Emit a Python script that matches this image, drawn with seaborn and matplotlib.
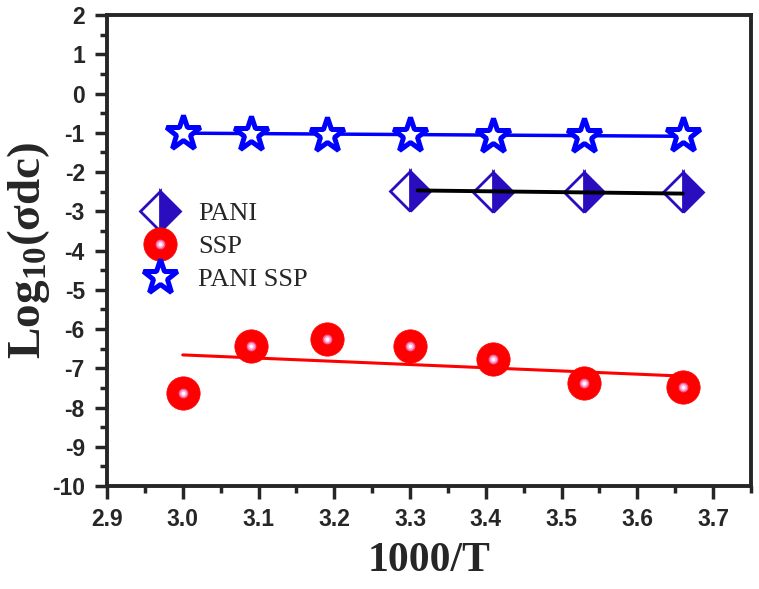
import matplotlib
matplotlib.use("Agg")
import matplotlib.pyplot as plt
import seaborn as sns
import numpy as np
from matplotlib.lines import Line2D
from matplotlib.ticker import MultipleLocator

# ---- data ----
inv_T = [3.00, 3.09, 3.19, 3.30, 3.41, 3.53, 3.66]
pani_ssp = [-1.00, -1.03, -1.05, -1.06, -1.08, -1.08, -1.07]
ssp = [-7.63, -6.44, -6.26, -6.44, -6.77, -7.37, -7.48]
pani_x = [3.30, 3.41, 3.53, 3.66]
pani = [-2.49, -2.50, -2.51, -2.52]

# fitted lines
fit_pani_ssp_x = [3.00, 3.66]
fit_pani_ssp_y = [-1.01, -1.09]
fit_pani_x = [3.31, 3.66]
fit_pani_y = [-2.47, -2.55]
fit_ssp_x = [3.00, 3.66]
fit_ssp_y = [-6.66, -7.20]

labels = ["PANI", "SSP", "PANI SSP"]
xticks = [2.9, 3.0, 3.1, 3.2, 3.3, 3.4, 3.5, 3.6, 3.7]
yticks = list(range(-10, 3))

sns.set_style("ticks")
plt.rcParams["font.family"] = ["Liberation Sans", "DejaVu Sans"]
plt.rcParams["mathtext.fontset"] = "custom"
plt.rcParams["mathtext.rm"] = "Liberation Serif:bold"
plt.rcParams["mathtext.it"] = "Liberation Serif:bold"
plt.rcParams["mathtext.bf"] = "Liberation Serif:bold"

fig = plt.figure(figsize=(7.59, 5.89), dpi=100)
ax = fig.add_axes([107 / 759, 1 - 486 / 589, (751 - 107) / 759, (486 - 15) / 589])

blue = "#0000FF"
red = "#FF0000"
purple = "#2A0DBE"

# fit lines
sns.lineplot(x=fit_pani_ssp_x, y=fit_pani_ssp_y, ax=ax, color=blue, lw=2.5, zorder=2)
sns.lineplot(x=fit_pani_x, y=fit_pani_y, ax=ax, color="black", lw=2.8, zorder=4)
sns.lineplot(x=fit_ssp_x, y=fit_ssp_y, ax=ax, color=red, lw=2.2, zorder=2)

star_kw = dict(ls="none", marker="*", ms=26, mfc="white", mec=blue, mew=3.6)
circ_kw = dict(ls="none", marker="o", ms=24, mfc=red, mec=red, mew=0.5)
hl1_kw = dict(ls="none", marker="o", ms=6, mfc="#FFB0D8", mec="#F060A0", mew=1.0)
hl2_kw = dict(ls="none", marker="o", ms=2.5, mfc="white", mec="white", mew=0)
dia_kw = dict(ls="none", marker="D", ms=20.5, fillstyle="right", mfc=purple,
              markerfacecoloralt="white", mec=purple, mew=2.0)

# markers
ax.plot(inv_T, pani_ssp, zorder=3, **star_kw)
ax.plot(inv_T, ssp, zorder=3, **circ_kw)
ax.plot(inv_T, ssp, zorder=3.1, **hl1_kw)
ax.plot(inv_T, ssp, zorder=3.2, **hl2_kw)
ax.plot(pani_x, pani, zorder=3, **dia_kw)

ax.set_xlim(2.9, 3.75)
ax.set_ylim(-10, 2)
ax.set_xticks(xticks)
ax.set_yticks(yticks)
ax.xaxis.set_minor_locator(MultipleLocator(0.05))
ax.yaxis.set_minor_locator(MultipleLocator(0.5))
ax.set_xticklabels([f"{v:.1f}" for v in xticks])
ax.set_yticklabels([str(v) for v in yticks])
ax.tick_params(which="major", direction="out", length=9, width=2.5, labelsize=16.5, pad=7)
ax.tick_params(which="minor", direction="out", length=5, width=2.5)
ax.tick_params(top=False, right=False, which="both")
for lab in ax.get_xticklabels() + ax.get_yticklabels():
    lab.set_fontweight("bold")
for s in ax.spines.values():
    s.set_linewidth(2.8)
    s.set_visible(True)

ax.set_xlabel("1000/T", fontsize=30, fontweight="bold", family="Liberation Serif", labelpad=8)
ax.set_ylabel(r"Log$_{10}$(σdc)", fontsize=34, fontweight="bold", family="Liberation Serif", labelpad=0)

# legend
h_pani = Line2D([], [], **dia_kw)
h_ssp = (Line2D([], [], **circ_kw), Line2D([], [], **hl1_kw), Line2D([], [], **hl2_kw))
h_ps = Line2D([], [], **star_kw)
leg = ax.legend([h_pani, h_ssp, h_ps], labels, loc="upper left", bbox_to_anchor=(0.053, 0.603),
                frameon=False, prop={"family": "Liberation Serif", "size": 19},
                handletextpad=0.75, labelspacing=0.36, handlelength=1.4, borderaxespad=0,
                borderpad=0)

fig.savefig("out.png", dpi=100)
